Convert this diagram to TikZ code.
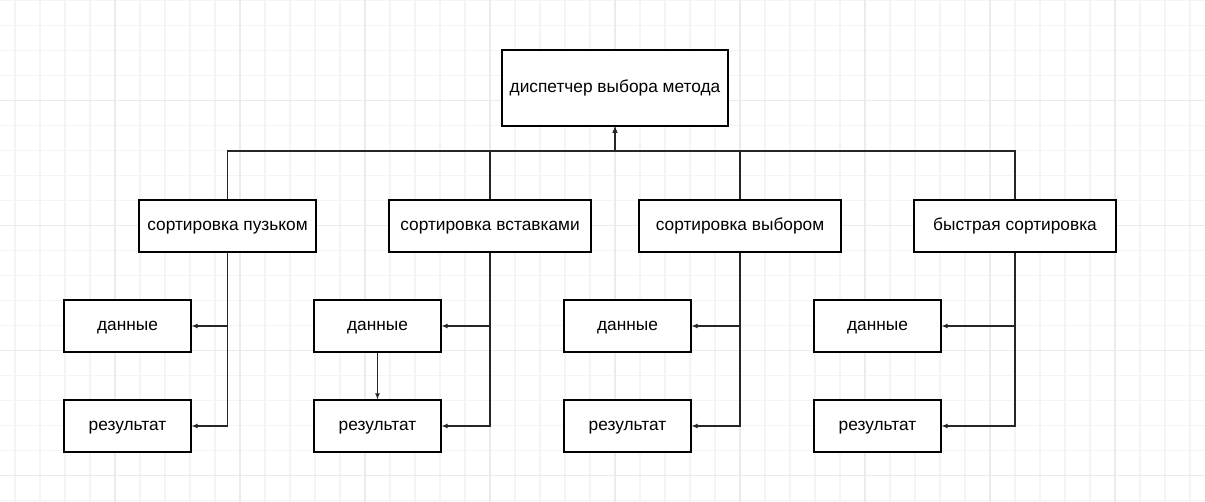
\documentclass[tikz,border=0pt]{standalone}
\usepackage{fontspec}
\setmainfont{Liberation Sans}
\usetikzlibrary{positioning,arrows.meta}
\definecolor{gridminor}{HTML}{F4F4F4}
\definecolor{gridmajor}{HTML}{EBEBEB}

\begin{document}
\begin{tikzpicture}[x=1pt,y=-1pt,
  box/.style={draw=black,line width=1.2pt,fill=white,inner sep=0pt,
    font=\fontsize{17.3}{20}\selectfont,text height=12.5pt,text depth=3.5pt,
    minimum height=52pt},
  arr/.style={-{Latex[length=6pt,width=5pt]},line width=1.1pt,draw=black!85}]

\useasboundingbox (0,0) rectangle (1205,502);
\fill[white] (0,0) rectangle (1205,502);
\foreach \x in {15,40,...,1205} \draw[gridminor,line width=1.3pt] (\x,0) -- (\x,502);
\foreach \y in {0.5,25.5,...,502} \draw[gridminor,line width=1.3pt] (0,\y) -- (1205,\y);
\foreach \x in {115,240,...,1205} \draw[gridmajor,line width=1.3pt] (\x,0) -- (\x,502);
\foreach \y in {100.5,225.5,...,502} \draw[gridmajor,line width=1.3pt] (0,\y) -- (1205,\y);

\node[box,minimum width=226pt,minimum height=76pt] (top) at (615,88) {диспетчер выбора метода};

\node[box,minimum width=177pt] (s1) at (227.5,226) {сортировка пузьком};
\node[box,minimum width=202pt] (s2) at (490,226) {сортировка вставками};
\node[box,minimum width=202pt] (s3) at (740,226) {сортировка выбором};
\node[box,minimum width=202pt] (s4) at (1015,226) {быстрая сортировка};

\node[box,minimum width=127pt] (d1) at (127.5,326) {данные};
\node[box,minimum width=127pt] (d2) at (377.5,326) {данные};
\node[box,minimum width=127pt] (d3) at (627.5,326) {данные};
\node[box,minimum width=127pt] (d4) at (877.5,326) {данные};

\node[box,minimum width=127pt] (r1) at (127.5,426) {результат};
\node[box,minimum width=127pt] (r2) at (377.5,426) {результат};
\node[box,minimum width=127pt] (r3) at (627.5,426) {результат};
\node[box,minimum width=127pt] (r4) at (877.5,426) {результат};

\coordinate (bus) at (615,151);

\draw[arr] (s1.north) |- (bus) -- (top.south);
\draw[arr] (s2.north) |- (bus) -- (top.south);
\draw[arr] (s3.north) |- (bus) -- (top.south);
\draw[arr] (s4.north) |- (bus) -- (top.south);

\draw[arr] (s1.south) |- (d1.east);
\draw[arr] (s1.south) |- (r1.east);

\draw[arr] (s2.south) |- (d2.east);
\draw[arr] (s2.south) |- (r2.east);
\draw[arr] (d2.south) -- (r2.north);

\draw[arr] (s3.south) |- (d3.east);
\draw[arr] (s3.south) |- (r3.east);

\draw[arr] (s4.south) |- (d4.east);
\draw[arr] (s4.south) |- (r4.east);

\end{tikzpicture}
\end{document}
